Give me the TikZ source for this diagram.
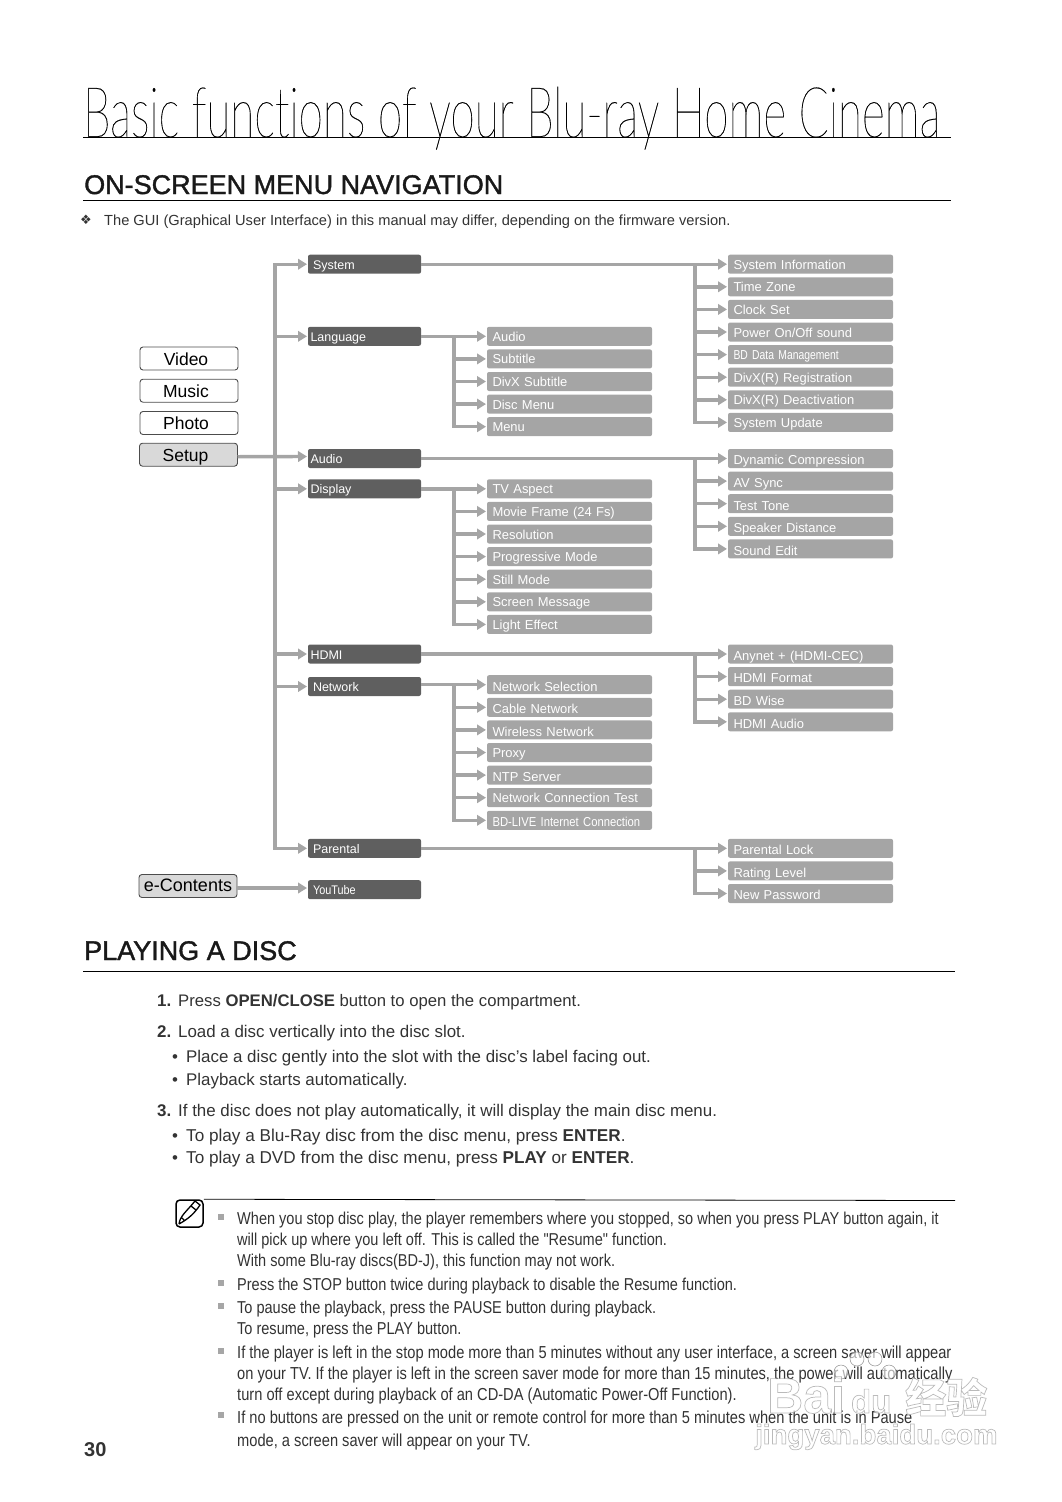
\documentclass[tikz,border=0pt]{standalone}
\usepackage{fontspec}
\usetikzlibrary{arrows.meta,positioning}
\setmainfont{Liberation Sans}
\newfontfamily\titlefont[FakeStretch=0.63,FakeBold=0.25,Ligatures=NoCommon]{Lato Hairline}
\newfontfamily\headfont[FakeBold=1.4]{Liberation Sans}
\newfontfamily\notefont[FakeStretch=0.845]{Liberation Sans}
\newfontfamily\tightfont[FakeStretch=0.8]{Liberation Sans}
\newfontfamily\midfont[FakeStretch=0.87]{Liberation Sans}
\newfontfamily\symbolfont{DejaVu Sans}
\newfontfamily\cjkfont{Noto Sans CJK SC}
\definecolor{flowgray}{HTML}{A5A5A5}
\definecolor{topgray}{HTML}{5F5F5F}
\definecolor{inkgray}{HTML}{333333}
\newcommand{\ind}{\hspace{2.5pt}}
\newcommand{\outlined}{\special{pdf:code 2 Tr 0.7 w 0.62 G}}
\tikzset{
  flow/.style={color=flowgray,line width=3.4pt,->,>={Triangle[length=9pt,width=10.5pt]},shorten >=1pt},
  busto/.style={to path={|- (\tikztotarget)}},
  leftbox/.style={draw=black!70,rounded corners=3pt,line width=.9pt,minimum width=98pt,inner sep=0pt,inner ysep=3.5pt,text height=14.5pt,text depth=1.5pt,outer sep=0pt,font=\fontsize{17.5}{18}\selectfont},
  topbox/.style={fill=topgray,text=white,rounded corners=2pt,inner xsep=2.5pt,inner ysep=3pt,outer sep=0pt,text width=108pt,text height=11.5pt,text depth=1.5pt,font=\fontsize{12.5}{13}\selectfont},
  subbox/.style={fill=flowgray,text=white,rounded corners=2pt,inner xsep=5.5pt,inner ysep=2.5pt,outer sep=0pt,text width=154pt,text height=12pt,text depth=2pt,font=\fontsize{12.95}{13}\selectfont},
  sublow/.style={subbox,text height=13.3pt,text depth=.7pt},
  bodytxt/.style={anchor=base west,inner sep=0pt,text=inkgray,font=\fontsize{16.9}{17}\selectfont},
  notetxt/.style={anchor=north west,inner sep=0pt,text=inkgray,font=\notefont\fontsize{17.2}{21}\selectfont,align=left},
  headtxt/.style={anchor=base west,inner sep=0pt,text=black!90,font=\headfont\fontsize{27}{27}\selectfont},
  rulerline/.style={draw=black,line width=.8pt},
  notemark/.style={fill=gray!70,minimum size=6pt,inner sep=0pt},
  markmark/.style={draw=black!45,fill=white,fill opacity=.6,line width=.5pt,minimum width=10pt,minimum height=14pt,inner sep=0pt,shape=circle},
  node distance=3.6pt
}
\begin{document}
\begin{tikzpicture}[x=1pt,y=-1pt]
    \useasboundingbox (0,0) rectangle (1062,1502);

    % page heading
    \node[anchor=base west,inner sep=0pt,text=black,font=\titlefont\fontsize{70}{70}\selectfont] (title) at (83,137) {Basic functions of your Blu-ray Home Cinema};
    \coordinate (titleL) at (83,137.5);
    \coordinate (titleR) at (951,137.5);
    \draw[rulerline] (titleL) -- (titleR);
    \node[headtxt] (menuhead) at (84,194) {ON-SCREEN MENU NAVIGATION};
    \coordinate (menuL) at (83,200.5);
    \coordinate (menuR) at (951,200.5);
    \draw[rulerline] (menuL) -- (menuR);
    \node[bodytxt,font=\symbolfont\fontsize{13}{13}\selectfont] (gmark) at (80,224.5) {❖};
    \node[bodytxt,font=\fontsize{14.64}{15}\selectfont] (gnote) at (104,225) {The GUI (Graphical User Interface) in this manual may differ, depending on the firmware version.};

    % left column
    \node[leftbox]                (video)    at (189,358.5) {\hspace{-6pt}Video};
    \node[leftbox]                (music)    at (189,390.7) {\hspace{-6pt}Music};
    \node[leftbox]                (photo)    at (189,423)   {\hspace{-6pt}Photo};
    \node[leftbox,fill=black!15]  (setup)    at (188.5,454.7) {\hspace{-6pt}Setup};
    \node[leftbox,fill=black!15,font=\fontsize{18}{18}\selectfont,text height=13.5pt,text depth=2.5pt] (econtents) at (188,886) {e-Contents};

    % first level
    \node[topbox] (system)   at (364.5,264.2) {\ind System};
    \node[topbox] (language) at (364.5,336.3) {Language};
    \node[topbox] (audio)    at (364.5,458.5) {Audio};
    \node[topbox] (display)  at (364.5,488.8) {Display};
    \node[topbox] (hdmi)     at (364.5,654)   {HDMI};
    \node[topbox] (network)  at (364.5,686.5) {\ind Network};
    \node[topbox] (parental) at (364.5,848.3) {\ind Parental};
    \node[topbox] (youtube)  at (364.5,889.7) {\ind\midfont YouTube};

    % language items
    \node[subbox] (langaudio) at (569.5,336.3)    {Audio};
    \node[subbox] (subtitle)  [below=of langaudio] {Subtitle};
    \node[subbox] (divxsub)   [below=of subtitle]  {DivX Subtitle};
    \node[subbox] (discmenu)  [below=of divxsub]   {Disc Menu};
    \node[subbox] (langmenu)  [below=of discmenu]  {Menu};

    % display items
    \node[subbox] (tvaspect)  at (569.5,488.8)     {TV Aspect};
    \node[subbox] (movie)     [below=of tvaspect]  {Movie Frame (24 Fs)};
    \node[subbox] (resol)     [below=of movie]     {Resolution};
    \node[subbox] (progmode)  [below=of resol]     {Progressive Mode};
    \node[subbox] (stillmode) [below=of progmode]  {Still Mode};
    \node[subbox] (screenmsg) [below=of stillmode] {Screen Message};
    \node[subbox] (lighteff)  [below=of screenmsg] {Light Effect};

    % network items
    \node[sublow] (netsel)    at (569.5,684.7)     {Network Selection};
    \node[sublow] (cablenet)  [below=of netsel]    {Cable Network};
    \node[sublow] (wireless)  [below=of cablenet]  {Wireless Network};
    \node[subbox] (proxy)     [below=of wireless]  {Proxy};
    \node[sublow] (ntp)       [below=of proxy]     {NTP Server};
    \node[subbox] (nettest)   [below=of ntp]       {Network Connection Test};
    \node[sublow] (bdlive)    [below=of nettest]   {\midfont BD-LIVE Internet Connection};

    % system items
    \node[subbox] (sysinfo)   at (810.5,264.2)     {System Information};
    \node[subbox] (timezone)  [below=of sysinfo]   {Time Zone};
    \node[subbox] (clockset)  [below=of timezone]  {Clock Set};
    \node[subbox] (poweronoff) [below=of clockset] {Power On/Off sound};
    \node[subbox] (bddata)    [below=of poweronoff] {\tightfont BD Data Management};
    \node[subbox] (divxreg)   [below=of bddata]    {DivX(R) Registration};
    \node[subbox] (divxdeact) [below=of divxreg]   {DivX(R) Deactivation};
    \node[subbox] (sysupdate) [below=of divxdeact] {System Update};

    % audio items
    \node[sublow] (dyncomp)   at (810.5,458.5)     {Dynamic Compression};
    \node[sublow] (avsync)    [below=of dyncomp]   {AV Sync};
    \node[sublow] (testtone)  [below=of avsync]    {Test Tone};
    \node[sublow] (speaker)   [below=of testtone]  {Speaker Distance};
    \node[sublow] (soundedit) [below=of speaker]   {Sound Edit};

    % hdmi items
    \node[sublow] (anynet)    at (810.5,654)       {Anynet + (HDMI-CEC)};
    \node[sublow] (hdmifmt)   [below=of anynet]    {HDMI Format};
    \node[sublow] (bdwise)    [below=of hdmifmt]   {BD Wise};
    \node[sublow] (hdmiaudio) [below=of bdwise]    {HDMI Audio};

    % parental items
    \node[sublow] (parlock)   at (810.5,848.3)     {Parental Lock};
    \node[sublow] (rating)    [below=of parlock]   {Rating Level};
    \node[sublow] (newpass)   [below=of rating]    {New Password};

    % bus points
    \coordinate (trunk)   at (275,457);
    \coordinate (langbus) at (454,336.3);
    \coordinate (dispbus) at (454,488.8);
    \coordinate (netbus)  at (454,684.7);
    \coordinate (sysbus)  at (695,264.2);
    \coordinate (audbus)  at (695,458.5);
    \coordinate (hdmibus) at (695,654);
    \coordinate (parbus)  at (695,848.3);

    % connectors
    \draw[flow] ([yshift=-2pt]setup.east) -- ([yshift=2pt]audio.west);
    \draw[flow] ([yshift=-2pt]econtents.east) -- ([yshift=1.7pt]youtube.west);
    \path[flow,busto]
      (trunk) edge (system)
              edge (language)
              edge (display)
              edge (hdmi)
              edge (network)
              edge (parental)
      (langbus) edge (subtitle)
                edge (divxsub)
                edge (discmenu)
                edge (langmenu)
      (dispbus) edge (movie)
                edge (resol)
                edge (progmode)
                edge (stillmode)
                edge (screenmsg)
                edge (lighteff)
      (netbus)  edge (cablenet)
                edge (wireless)
                edge (proxy)
                edge (ntp)
                edge (nettest)
                edge (bdlive)
      (sysbus)  edge (timezone)
                edge (clockset)
                edge (poweronoff)
                edge (bddata)
                edge (divxreg)
                edge (divxdeact)
                edge (sysupdate)
      (audbus)  edge (avsync)
                edge (testtone)
                edge (speaker)
                edge (soundedit)
      (hdmibus) edge (hdmifmt)
                edge (bdwise)
                edge (hdmiaudio)
      (parbus)  edge (rating)
                edge (newpass);
    \path[flow]
      (language) edge (langaudio)
      (display)  edge (tvaspect)
      (netsel.west -| network.east) edge (netsel.west)
      (system)   edge (sysinfo)
      (audio)    edge (dyncomp)
      (hdmi)     edge (anynet)
      (parental) edge (parlock);

    % playing a disc
    \node[headtxt] (dischead) at (84,960) {PLAYING A DISC};
    \coordinate (discL) at (83,971.5);
    \coordinate (discR) at (955,971.5);
    \draw[rulerline] (discL) -- (discR);

    \node[bodytxt] (stepone) at (157,1006) {\textbf{1.}};
    \node[bodytxt,font=\fontsize{16.7}{17}\selectfont] (steponetxt) at (178,1006) {Press \textbf{OPEN/CLOSE} button to open the compartment.};
    \node[bodytxt] (steptwo) at (157,1037) {\textbf{2.}};
    \node[bodytxt] (steptwotxt) at (178,1037) {Load a disc vertically into the disc slot.};
    \node[bodytxt] (dota) at (172,1062) {•};
    \node[bodytxt] (dotatxt) at (186,1062) {Place a disc gently into the slot with the disc’s label facing out.};
    \node[bodytxt] (dotb) at (172,1085) {•};
    \node[bodytxt] (dotbtxt) at (186,1085) {Playback starts automatically.};
    \node[bodytxt] (stepthree) at (157,1116) {\textbf{3.}};
    \node[bodytxt] (stepthreetxt) at (178,1116) {If the disc does not play automatically, it will display the main disc menu.};
    \node[bodytxt] (dotc) at (172,1141) {•};
    \node[bodytxt,font=\fontsize{17.15}{17}\selectfont] (dotctxt) at (186,1141) {To play a Blu-Ray disc from the disc menu, press \textbf{ENTER}.};
    \node[bodytxt] (dotd) at (172,1163) {•};
    \node[bodytxt,font=\fontsize{17.15}{17}\selectfont] (dotdtxt) at (186,1163) {To play a DVD from the disc menu, press \textbf{PLAY} or \textbf{ENTER}.};

    % note block
    \node[draw=black,rounded corners=4pt,line width=1.5pt,minimum size=27pt,inner sep=0pt] (noteicon) at (189.5,1213.5) {};
    \coordinate (noteR) at (955,1200.5);
    \draw[rulerline] (noteicon.north east) -- (noteR);
    \draw[line width=1.3pt] (179,1224) .. controls (180,1216) and (186,1212) .. (195,1201)
      -- (200,1205) .. controls (194,1214) and (188,1219) .. (179,1224)
      (191,1206) -- (196,1210) (182,1218) -- (185,1221);

    \node[notemark] (marka) at (220.5,1217) {};
    \node[notetxt] (notea) at (237,1211.5) {When you stop disc play, the player remembers where you stopped, so when you press PLAY button again, it\\will pick up where you left off. This is called the "Resume" function.\\With some Blu-ray discs(BD-J), this function may not work.};
    \node[notemark] (markb) at (220.5,1283) {};
    \node[notetxt] (noteb) at (237,1277.5) {Press the STOP button twice during playback to disable the Resume function.};
    \node[notemark] (markc) at (220.5,1306) {};
    \node[notetxt] (notec) at (237,1300.5) {To pause the playback, press the PAUSE button during playback.\\To resume, press the PLAY button.};
    \node[notemark] (markd) at (220.5,1351) {};
    \node[notetxt,font=\notefont\fontsize{17.34}{21}\selectfont] (noted) at (237,1345.5) {If the player is left in the stop mode more than 5 minutes without any user interface, a screen saver will appear\\on your TV. If the player is left in the screen saver mode for more than 15 minutes, the power will automatically\\turn off except during playback of an CD-DA (Automatic Power-Off Function).};
    \node[notemark] (marke) at (220.5,1415) {};
    \node[notetxt,font=\notefont\fontsize{17.34}{21}\selectfont] (notee) at (237,1410.5) {If no buttons are pressed on the unit or remote control for more than 5 minutes when the unit is in Pause\\[2pt]mode, a screen saver will appear on your TV.};

    \node[bodytxt,font=\bfseries\fontsize{20}{20}\selectfont] (pagenum) at (84,1456) {30};

    % watermark
    \node[markmark] (pawa) at (841,1372) {};
    \node[markmark] (pawb) at (857,1359) {};
    \node[markmark] (pawc) at (875,1359) {};
    \node[markmark] (pawd) at (889,1372) {};
    \node[anchor=base west,inner sep=0pt,text=white,text opacity=.7,font=\bfseries\fontsize{50}{50}\selectfont] (baidu) at (767,1413) {\outlined Bai\hspace{6pt}{\fontsize{33}{33}\selectfont du}\hspace{14pt}{\cjkfont\fontsize{41}{41}\selectfont 经验}};
    \node[anchor=base west,inner sep=0pt,text=white,text opacity=.7,font=\bfseries\fontsize{27.6}{28}\selectfont] (jingyan) at (755,1444) {\outlined jingyan.baidu.com};
\end{tikzpicture}
\end{document}
